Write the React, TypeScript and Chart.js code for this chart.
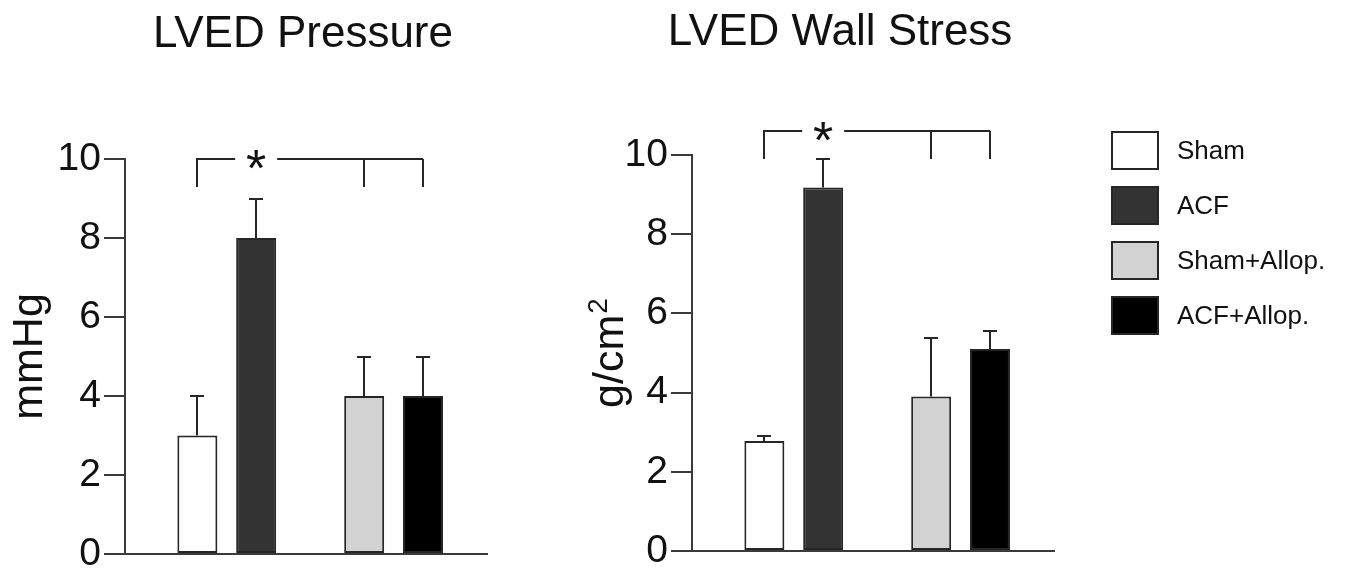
import React, { useEffect, useRef } from 'react';
import { Chart, registerables } from 'chart.js';

Chart.register(...registerables);

// ---------- data ----------
const seriesNames = ['Sham', 'ACF', 'Sham+Allop.', 'ACF+Allop.'];
const seriesGroup = [0, 0, 1, 1];
const groups = [0, 1];
const pressureMean = [3.0, 8.0, 4.0, 4.0];
const pressureErr = [1.0, 1.0, 1.0, 1.0];
const stressMean = [2.78, 9.18, 3.9, 5.1];
const stressErr = [0.13, 0.72, 1.48, 0.45];
const yTickValues = [0, 2, 4, 6, 8, 10];
const pressureBracket = 10.0;
const stressBracket = 10.6;
const bracketDropSeries = [0, 2, 3];
const starSeries = 1;

// ---------- styles ----------
const FONT = '"Liberation Sans", Arial, Helvetica, sans-serif';
const INK = '#262626';
const AXIS = '#3a3a3a';
const TEXT = '#111111';
const fills = ['#ffffff', '#333333', '#d2d2d2', '#000000'];
const W = 1347;
const H = 570;
const Y_W = 120;

type Panel = {
  title: string;
  titleX: number;
  titleY: number;
  axisMain: string;
  axisSup: string;
  axisX: number;
  mean: number[];
  err: number[];
  bracket: number;
  area: { left: number; right: number; top: number; bottom: number };
};

const panels: Panel[] = [
  {
    title: 'LVED Pressure', titleX: 303, titleY: 47,
    axisMain: 'mmHg', axisSup: '', axisX: 42,
    mean: pressureMean, err: pressureErr, bracket: pressureBracket,
    area: { left: 125, right: 487, top: 159, bottom: 554 },
  },
  {
    title: 'LVED Wall Stress', titleX: 840, titleY: 45,
    axisMain: 'g/cm', axisSup: '2', axisX: 623,
    mean: stressMean, err: stressErr, bracket: stressBracket,
    area: { left: 692, right: 1054, top: 155, bottom: 551 },
  },
];

function decorPlugin(p: Panel) {
  return {
    id: 'decor',
    afterDatasetsDraw(chart: any) {
      const ctx: CanvasRenderingContext2D = chart.ctx;
      const ys = chart.scales.y;
      const centers = seriesNames.map((_, i) => chart.getDatasetMeta(i).data[seriesGroup[i]].x as number);
      ctx.save();
      ctx.strokeStyle = INK;
      ctx.lineWidth = 2;
      // error bars (upper only)
      centers.forEach((cx, i) => {
        const t = ys.getPixelForValue(p.mean[i]);
        const e = Math.round(ys.getPixelForValue(p.mean[i] + p.err[i]));
        const x = Math.round(cx);
        ctx.beginPath();
        ctx.moveTo(x, t);
        ctx.lineTo(x, e);
        ctx.moveTo(x - 7, e);
        ctx.lineTo(x + 7, e);
        ctx.stroke();
      });
      // significance bracket
      const by = Math.round(ys.getPixelForValue(p.bracket));
      const drop = 28;
      const xStart = Math.round(centers[bracketDropSeries[0]]);
      const xEnd = Math.round(centers[bracketDropSeries[bracketDropSeries.length - 1]]);
      const xStar = centers[starSeries];
      const gap = 21;
      ctx.beginPath();
      ctx.moveTo(xStart, by + drop);
      ctx.lineTo(xStart, by);
      ctx.lineTo(xStar - gap, by);
      ctx.moveTo(xStar + gap, by);
      ctx.lineTo(xEnd, by);
      bracketDropSeries.slice(1).forEach((s) => {
        const x = Math.round(centers[s]);
        ctx.moveTo(x, by);
        ctx.lineTo(x, by + drop);
      });
      ctx.stroke();
      ctx.font = `52px ${FONT}`;
      ctx.fillStyle = TEXT;
      ctx.textAlign = 'center';
      ctx.textBaseline = 'alphabetic';
      const m = ctx.measureText('*');
      ctx.fillText('*', xStar, by + (m.actualBoundingBoxAscent - m.actualBoundingBoxDescent) / 2);
      ctx.restore();
    },
    afterDraw(chart: any) {
      const ctx: CanvasRenderingContext2D = chart.ctx;
      const area = chart.chartArea;
      ctx.save();
      ctx.fillStyle = TEXT;
      // panel title
      ctx.font = `44px ${FONT}`;
      ctx.textAlign = 'center';
      ctx.textBaseline = 'alphabetic';
      ctx.fillText(p.title, p.titleX, p.titleY);
      // y-axis title (rotated)
      const cy = (area.top + area.bottom) / 2;
      ctx.translate(p.axisX, cy);
      ctx.rotate(-Math.PI / 2);
      ctx.textAlign = 'left';
      ctx.font = `43px ${FONT}`;
      const mw = ctx.measureText(p.axisMain).width;
      ctx.font = `28px ${FONT}`;
      const sw = p.axisSup ? ctx.measureText(p.axisSup).width + 1 : 0;
      const start = -(mw + sw) / 2;
      ctx.font = `43px ${FONT}`;
      ctx.fillText(p.axisMain, start, 0);
      if (p.axisSup) {
        ctx.font = `28px ${FONT}`;
        ctx.fillText(p.axisSup, start + mw + 1, -16);
      }
      ctx.restore();
    },
  };
}

function makeChart(canvas: HTMLCanvasElement, p: Panel) {
  const datasets = seriesNames.map((name, i) => ({
    label: name,
    data: groups.map((g) => ({ x: g, y: seriesGroup[i] === g ? p.mean[i] : null })),
    backgroundColor: fills[i],
    borderColor: INK,
    borderWidth: 2,
    borderSkipped: false,
    categoryPercentage: 0.705,
    barPercentage: 0.68,
    skipNull: true,
  }));
  return new Chart(canvas, {
    type: 'bar',
    data: { datasets } as any,
    options: {
      animation: false,
      responsive: false,
      maintainAspectRatio: false,
      events: [],
      layout: {
        padding: {
          left: p.area.left - Y_W,
          top: p.area.top,
          right: W - p.area.right,
          bottom: H - p.area.bottom,
        },
      },
      plugins: {
        legend: { display: false },
        title: { display: false },
        tooltip: { enabled: false },
      },
      scales: {
        x: {
          type: 'linear',
          min: -0.61,
          max: 1.56,
          offset: false,
          ticks: { display: false, stepSize: 1, includeBounds: false },
          grid: { display: false },
          border: { display: true, color: AXIS, width: 2 },
          afterFit: (s: any) => {
            s.height = 0;
            s.paddingLeft = 0;
            s.paddingRight = 0;
          },
        },
        y: {
          type: 'linear',
          position: 'left',
          min: 0,
          max: 10,
          afterBuildTicks: (s: any) => {
            s.ticks = yTickValues.map((v) => ({ value: v }));
          },
          ticks: {
            font: { family: FONT, size: 39 },
            color: TEXT,
            padding: 3,
            callback: (v: any) => String(v),
          },
          grid: {
            display: true,
            drawOnChartArea: false,
            drawTicks: true,
            tickLength: 21,
            tickWidth: 2,
            tickColor: AXIS,
            lineWidth: 2,
            color: AXIS,
          },
          border: { display: true, color: AXIS, width: 2 },
          afterFit: (s: any) => {
            s.width = Y_W;
            s.paddingTop = 0;
            s.paddingBottom = 0;
          },
        },
      },
    } as any,
    plugins: [decorPlugin(p)],
  });
}

export default function App() {
  const ref1 = useRef<HTMLCanvasElement>(null);
  const ref2 = useRef<HTMLCanvasElement>(null);

  useEffect(() => {
    const c1 = makeChart(ref1.current as HTMLCanvasElement, panels[0]);
    const c2 = makeChart(ref2.current as HTMLCanvasElement, panels[1]);
    return () => {
      c1.destroy();
      c2.destroy();
    };
  }, []);

  const canvasStyle: React.CSSProperties = { position: 'absolute', left: 0, top: 0, width: W, height: H };

  return (
    <div style={{ position: 'absolute', left: 0, top: 0, width: W, height: H, background: '#ffffff', overflow: 'hidden' }}>
      <canvas ref={ref1} width={W} height={H} style={canvasStyle} />
      <canvas ref={ref2} width={W} height={H} style={canvasStyle} />
      <div style={{ position: 'absolute', left: 1111, top: 131, fontFamily: FONT, fontSize: 26, color: TEXT }}>
        {seriesNames.map((n, i) => (
          <div key={n} style={{ display: 'flex', alignItems: 'center', height: 39, marginBottom: 16 }}>
            <div
              style={{
                width: 48,
                height: 39,
                boxSizing: 'border-box',
                border: `2px solid ${INK}`,
                background: fills[i],
              }}
            />
            <span style={{ marginLeft: 18, lineHeight: '39px', whiteSpace: 'nowrap' }}>{n}</span>
          </div>
        ))}
      </div>
    </div>
  );
}
